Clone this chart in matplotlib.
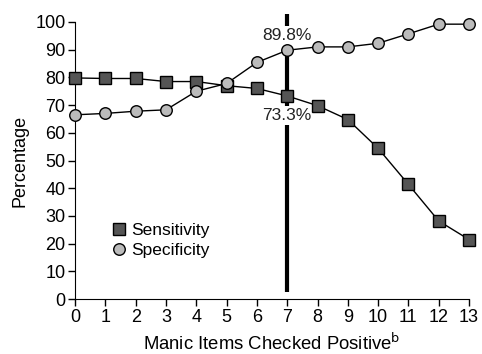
import matplotlib
matplotlib.use("Agg")
from matplotlib import pyplot as plt

plt.rcParams['font.family'] = ['Liberation Sans', 'DejaVu Sans']

items = list(range(14))
sensitivity = [79.8, 79.6, 79.6, 78.5, 78.5, 77.0, 76.0, 73.3, 69.8, 64.8, 54.4, 41.4, 28.2, 21.5]
specificity = [66.5, 67.0, 67.8, 68.3, 75.0, 77.8, 85.4, 89.8, 91.0, 91.0, 92.3, 95.7, 99.2, 99.2]
cutoff = 7

fig = plt.figure(figsize=(4.82, 3.54), dpi=100)
ax = fig.add_axes([0.156, 0.155, 0.817, 0.783])

ax.plot([cutoff, cutoff], [2.5, 103], color='black', lw=3, zorder=1, clip_on=False,
        solid_capstyle='butt')

ax.plot(items, sensitivity, color='black', lw=1, marker='s', markersize=8,
        markerfacecolor='#555555', markeredgecolor='black', markeredgewidth=1,
        label='Sensitivity', clip_on=False, zorder=3)
ax.plot(items, specificity, color='black', lw=1, marker='o', markersize=8.3,
        markerfacecolor='#bbbbbb', markeredgecolor='black', markeredgewidth=1,
        label='Specificity', clip_on=False, zorder=3)

ax.text(cutoff, 95.0, "89.8%", ha='center', va='center', fontsize=12.5, color='#222222',
        bbox=dict(facecolor='white', edgecolor='none', pad=1.5), zorder=2)
ax.text(cutoff, 66.2, "73.3%", ha='center', va='center', fontsize=12.5, color='#222222',
        bbox=dict(facecolor='white', edgecolor='none', pad=1.5), zorder=2)

ax.set_xlim(0, 13)
ax.set_ylim(0, 100)
ax.set_xticks(items)
ax.set_yticks(range(0, 101, 10))
ax.tick_params(direction='out', length=5, width=1, labelsize=13, colors='black', pad=2)
ax.spines['top'].set_visible(False)
ax.spines['right'].set_visible(False)
ax.set_xlabel("Manic Items Checked Positive$^{\\mathrm{b}}$", fontsize=13.3, labelpad=5)
ax.set_ylabel("Percentage", fontsize=13, labelpad=5)

leg = ax.legend(loc='lower left', bbox_to_anchor=(0.075, 0.124), frameon=False, fontsize=12.5,
                handlelength=0.8, handletextpad=0.35, labelspacing=0.25, markerscale=1.0,
                borderaxespad=0)
for line in leg.get_lines():
    line.set_linestyle('none')

fig.savefig("out.png", dpi=100)
